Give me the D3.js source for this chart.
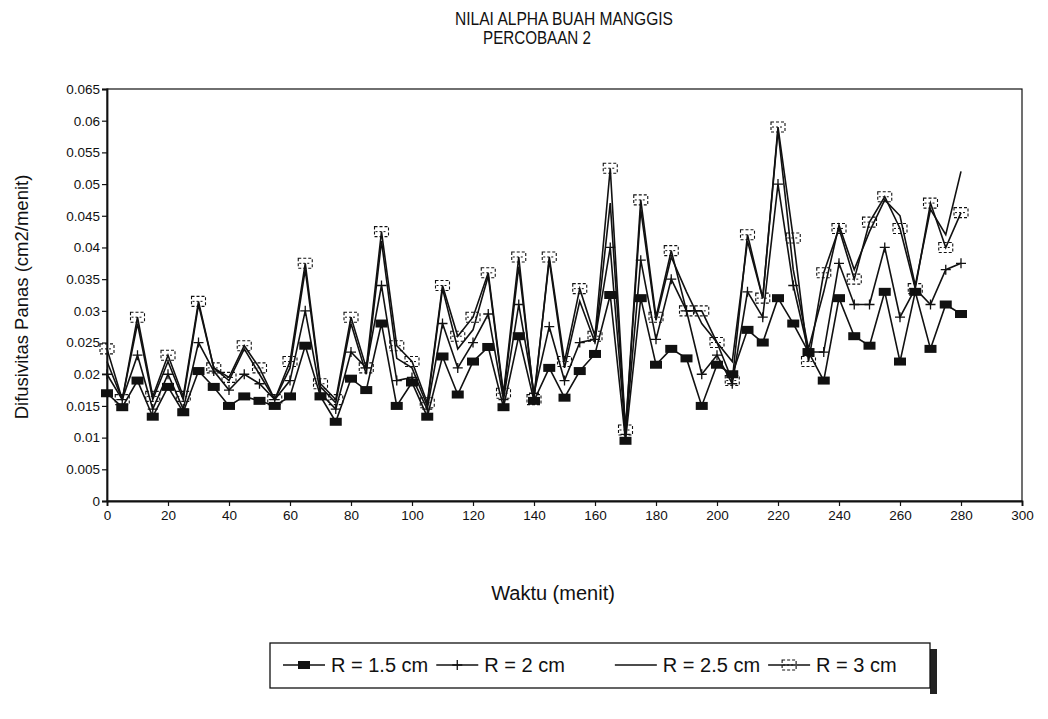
<!DOCTYPE html>
<html>
<head>
<meta charset="UTF-8">
<script src="https://d3js.org/d3.v7.min.js"></script>
<style>
  body { margin: 0; background: #fff; }
  text { font-family: "Liberation Sans", Arial, sans-serif; fill: #111; }
  .line { fill: none; stroke: #111; stroke-width: 1.6; }
</style>
<title>Nilai Alpha Buah Manggis</title>
</head>
<body>
<div id="chart"></div>
<script>
// waktu (menit), one sample every 5 minutes
var waktu = d3.range(0, 285, 5);

// difusivitas panas per radius
var r15 = [0.017, 0.0148, 0.019, 0.0133, 0.018, 0.014, 0.0205, 0.018, 0.015, 0.0165,
           0.0158, 0.015, 0.0165, 0.0245, 0.0165, 0.0125, 0.0193, 0.0175, 0.028, 0.015,
           0.0187, 0.0133, 0.0228, 0.0168, 0.022, 0.0243, 0.0148, 0.026, 0.0158, 0.021,
           0.0163, 0.0205, 0.0232, 0.0325, 0.0095, 0.032, 0.0215, 0.024, 0.0225, 0.015,
           0.0215, 0.020, 0.027, 0.025, 0.032, 0.028, 0.0235, 0.019, 0.032, 0.026,
           0.0245, 0.033, 0.022, 0.033, 0.024, 0.031, 0.0295];
var r2  = [0.020, 0.016, 0.023, 0.0145, 0.020, 0.0145, 0.025, 0.0205, 0.0175, 0.020,
           0.0185, 0.016, 0.019, 0.030, 0.017, 0.0145, 0.0235, 0.021, 0.034, 0.019,
           0.0195, 0.0145, 0.028, 0.021, 0.025, 0.0295, 0.016, 0.031, 0.017, 0.0275,
           0.019, 0.025, 0.0255, 0.040, 0.0105, 0.038, 0.0255, 0.035, 0.030, 0.020,
           0.023, 0.0185, 0.033, 0.029, 0.050, 0.034, 0.0235, 0.0235, 0.0375, 0.031,
           0.031, 0.040, 0.029, 0.0335, 0.031, 0.0365, 0.0375];
var r25 = [0.022, 0.016, 0.028, 0.016, 0.022, 0.016, 0.031, 0.021, 0.019, 0.024,
           0.020, 0.016, 0.021, 0.0365, 0.018, 0.0155, 0.028, 0.020, 0.041, 0.0225,
           0.021, 0.015, 0.0335, 0.024, 0.027, 0.0355, 0.0165, 0.037, 0.0165, 0.038,
           0.021, 0.0315, 0.025, 0.047, 0.011, 0.046, 0.0285, 0.0385, 0.033, 0.028,
           0.025, 0.022, 0.041, 0.032, 0.0585, 0.0365, 0.024, 0.033, 0.0435, 0.0365,
           0.0425, 0.0475, 0.045, 0.034, 0.046, 0.042, 0.052];
var r3  = [0.024, 0.016, 0.029, 0.0165, 0.023, 0.0165, 0.0315, 0.021, 0.0195, 0.0245,
           0.021, 0.016, 0.022, 0.0375, 0.0185, 0.016, 0.029, 0.021, 0.0425, 0.0245,
           0.022, 0.0155, 0.034, 0.026, 0.029, 0.036, 0.017, 0.0385, 0.016, 0.0385,
           0.022, 0.0335, 0.026, 0.0525, 0.0112, 0.0475, 0.029, 0.0395, 0.030, 0.030,
           0.025, 0.019, 0.042, 0.032, 0.059, 0.0415, 0.022, 0.036, 0.043, 0.035,
           0.044, 0.048, 0.043, 0.0335, 0.047, 0.040, 0.0455];

var xTicks = d3.range(0, 320, 20);
var yTicks = d3.range(0, 14).map(function(i) { return i * 0.005; });
var yTickLabels = ["0", "0.005", "0.01", "0.015", "0.02", "0.025", "0.03",
                   "0.035", "0.04", "0.045", "0.05", "0.055", "0.06", "0.065"];

var seriesNames = ["R = 1.5 cm", "R = 2 cm", "R = 2.5 cm", "R = 3 cm"];
var seriesMarks = ["square", "plus", "none", "box"];
var seriesData = [r15, r2, r25, r3];

var W = 1048, H = 719;
var margin = {top: 89, right: 26, bottom: 218, left: 107};
var width = W - margin.left - margin.right,
    height = H - margin.top - margin.bottom;

var svg = d3.select("#chart").append("svg")
    .attr("width", W)
    .attr("height", H);

// titles (thin, narrow print font in the original)
svg.append("text")
    .attr("x", 564).attr("y", 25)
    .attr("text-anchor", "middle")
    .attr("textLength", 218).attr("lengthAdjust", "spacingAndGlyphs")
    .style("font-size", "18px")
    .text("NILAI ALPHA BUAH MANGGIS");
svg.append("text")
    .attr("x", 537).attr("y", 44)
    .attr("text-anchor", "middle")
    .attr("textLength", 108).attr("lengthAdjust", "spacingAndGlyphs")
    .style("font-size", "18px")
    .text("PERCOBAAN 2");

var g = svg.append("g")
    .attr("transform", "translate(" + margin.left + "," + margin.top + ")");

var xScale = d3.scaleLinear().domain([0, 300]).range([0, width]);
var yScale = d3.scaleLinear().domain([0, 0.065]).range([height, 0]);

// frame
g.append("rect")
    .attr("x", 0).attr("y", 0)
    .attr("width", width).attr("height", height)
    .attr("fill", "none")
    .attr("stroke", "#111")
    .attr("stroke-width", 1.2);

var xAxis = g.append("g")
    .attr("class", "x axis")
    .attr("transform", "translate(0," + height + ")")
    .call(d3.axisBottom(xScale).tickValues(xTicks).tickSize(5).tickPadding(4));

var yAxis = g.append("g")
    .attr("class", "y axis")
    .call(d3.axisLeft(yScale).tickValues(yTicks).tickSize(5).tickPadding(2)
        .tickFormat(function(d, i) { return yTickLabels[i]; }));

[xAxis, yAxis].forEach(function(a) {
    a.select(".domain").attr("stroke", "#111").attr("stroke-width", 1.8);
    a.selectAll(".tick line").attr("stroke", "#111").attr("stroke-width", 1.2);
    a.selectAll(".tick text").style("font-size", "13.5px").attr("fill", "#111");
});

// axis titles
svg.append("text")
    .attr("x", 553).attr("y", 600)
    .attr("text-anchor", "middle")
    .style("font-size", "20px")
    .text("Waktu (menit)");
svg.append("text")
    .attr("transform", "translate(28,297) rotate(-90)")
    .attr("text-anchor", "middle")
    .style("font-size", "18.5px")
    .text("Difusivitas Panas (cm2/menit)");

var line = d3.line()
    .x(function(d) { return xScale(d.t); })
    .y(function(d) { return yScale(d.v); });

function drawMark(sel, type) {
    if (type === "square") {
        sel.append("rect")
            .attr("x", -6).attr("y", -4).attr("width", 12).attr("height", 8)
            .attr("fill", "#111");
    } else if (type === "plus") {
        sel.append("path")
            .attr("d", "M-5,0H5M0,-5V5")
            .attr("stroke", "#111").attr("stroke-width", 1.3).attr("fill", "none");
    } else if (type === "box") {
        sel.append("rect")
            .attr("x", -7).attr("y", -5).attr("width", 14).attr("height", 10)
            .attr("fill", "none")
            .attr("stroke", "#111").attr("stroke-width", 1.1)
            .attr("stroke-dasharray", "3,2");
        sel.append("path")
            .attr("d", "M-6,0H6")
            .attr("stroke", "#111").attr("stroke-width", 1).attr("stroke-dasharray", "2,2");
    }
}

seriesData.forEach(function(vals, k) {
    var pts = waktu.map(function(t, i) { return {t: t, v: vals[i]}; });
    g.append("path")
        .datum(pts)
        .attr("class", "line")
        .attr("d", line);
    if (seriesMarks[k] !== "none") {
        g.selectAll(".mk" + k)
            .data(pts)
            .enter().append("g")
            .attr("class", "mk" + k)
            .attr("transform", function(d) {
                return "translate(" + xScale(d.t) + "," + yScale(d.v) + ")";
            })
            .each(function() { drawMark(d3.select(this), seriesMarks[k]); });
    }
});

// legend: box with a dark shadow bar on the right
var lg = svg.append("g").attr("transform", "translate(270,643)");
var boxW = 660, boxH = 45;
lg.append("rect")
    .attr("x", boxW).attr("y", 6).attr("width", 7).attr("height", boxH)
    .attr("fill", "#222");
lg.append("rect")
    .attr("x", 0).attr("y", 0).attr("width", boxW).attr("height", boxH)
    .attr("fill", "#fff").attr("stroke", "#111").attr("stroke-width", 1.3);

var symLen = [42, 42, 42, 42];
var gapBefore = [13, 8, 50, 8];
var cx = 0;
seriesNames.forEach(function(name, k) {
    cx += gapBefore[k];
    var it = lg.append("g").attr("transform", "translate(" + cx + ",22)");
    it.append("path")
        .attr("d", "M0,0H" + symLen[k])
        .attr("stroke", "#111").attr("stroke-width", 1.6);
    drawMark(it.append("g").attr("transform", "translate(" + (symLen[k] / 2) + ",0)"), seriesMarks[k]);
    var tx = it.append("text")
        .attr("x", symLen[k] + 6).attr("y", 7)
        .style("font-size", "20px")
        .text(name);
    cx += symLen[k] + 6 + tx.node().getComputedTextLength();
});
</script>
</body>
</html>
